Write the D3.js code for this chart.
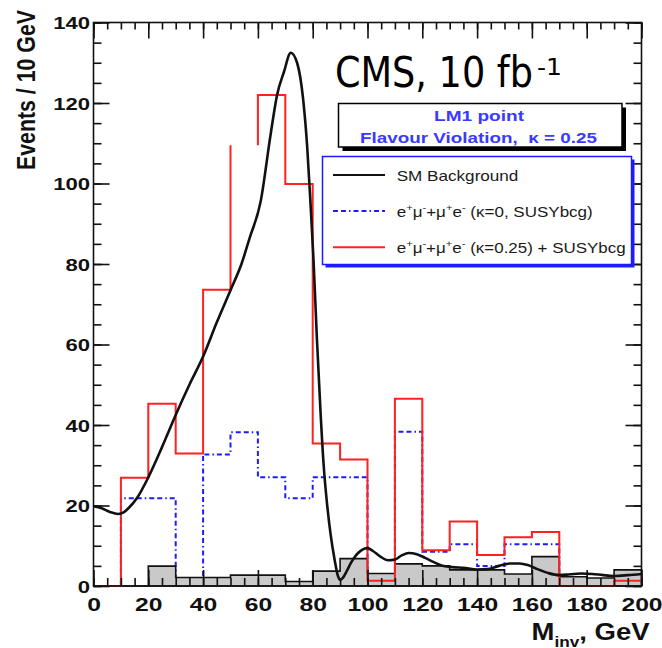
<!DOCTYPE html>
<html><head><meta charset="utf-8">
<script src="https://cdn.jsdelivr.net/npm/d3@7"></script>
<style>html,body{margin:0;padding:0;background:#fff;} svg{display:block;} text{white-space:pre;}</style>
</head><body><svg id="chart" width="662" height="648"></svg>
<script>
// ---------------- data ----------------
const binStart = [0,10,20,30,40,50,60,70,80,90,100,110,120,130,140,150,160,170,180,190];
const binWidth = 10;
// e+mu- + mu+e- (kappa=0.25) + SUSYbcg  (red)
const redVals  = [0, 26.9, 45.3, 32.9, 73.6, 109.5, 122, 99.9, 35.4, 31.4, 1.3, 46.5, 8.9, 16, 7.7, 12.1, 13.4, 0, 0, 1.3];
const redOpenTopBins = [50];           // bin whose top edge is not drawn in the original
// e+mu- + mu+e- (kappa=0, SUSYbcg)  (blue dash-dot)
const blueVals = [0, 21.8, 21.8, 0, 32.7, 38.2, 27, 21.8, 27, 27, 0, 38.3, 8.5, 10.4, 5, 10.4, 10.4, 0, 0, 0];
// grey filled histogram
const grayVals = [0, 0, 4.95, 2.1, 2.1, 2.7, 2.7, 1.1, 3.7, 6.8, 3.1, 5.5, 5.0, 4.0, 4.0, 3.0, 7.3, 2.3, 2.0, 4.0];
// SM background smooth curve
const smX = [0,3,6,9,11,13,16,20,25,30,35,40,45,50,54,57,61,64.6,67,69.5,72,74.3,76.5,78,79.2,80.3,81.5,82.8,84,85.3,86.5,88,89.2,90,91,92.5,94,96,98,100,102,104.7,107.5,110,112.5,115,118,121,124,127,131,135,140,144,148,152,155.5,158.5,162,166,170,174,178,182,186,190,195,200];
const smY = [19.8,19.3,18.4,17.9,18.3,19.5,22,27,34.5,42.5,50,57,65.5,73.5,80,86.5,95.5,112,122,127.7,132.5,130,121,109,95,81,62,44,30,20,13,6.5,2.5,1.5,2,3.8,5.8,7.8,9,9.4,8.7,7.3,6.4,6.6,7.6,8.2,7.9,7,6,5.1,4.7,4.5,4.1,4.2,5,5.6,5.6,5.2,4.2,3.2,2.7,2.9,3.1,3,2.7,2.5,2.7,3];
const xTickLabels = [0,20,40,60,80,100,120,140,160,180,200];
const yTickLabels = [0,20,40,60,80,100,120,140];
const legendLabels = ["SM Background", "(κ=0, SUSYbcg)", "(κ=0.25) + SUSYbcg"];

// ---------------- setup ----------------
const svg = d3.select("#chart");
const x = d3.scaleLinear().domain([0,200]).range([93.5, 641.5]);
const y = d3.scaleLinear().domain([0,140]).range([586, 22.5]);
const ARIAL = "'Liberation Sans', Arial, sans-serif";
const RED = "#ff2020", BLUE = "#1c1cff";

function stepPath(vals, openTops) {
  openTops = openTops || [];
  let p = `M${x(binStart[0])},${y(vals[0])}`;
  vals.forEach((v,i) => {
    const x1 = x(binStart[i] + binWidth);
    if (i > 0) p += `V${y(v)}`;
    p += openTops.includes(binStart[i]) ? `M${x1},${y(v)}` : `H${x1}`;
  });
  return p;
}
function areaPath(vals) {
  let p = `M${x(binStart[0])},${y(0)}`;
  vals.forEach((v,i) => { p += `V${y(v)}H${x(binStart[i] + binWidth)}`; });
  return p + `V${y(0)}Z`;
}

// ---------------- histograms ----------------
svg.append("path").attr("d", stepPath(blueVals)).attr("fill","none")
  .attr("stroke", BLUE).attr("stroke-width", 2).attr("stroke-dasharray","5,3,5,3,1.5,3");
svg.append("path").attr("d", areaPath(grayVals)).attr("fill","#c9c9c9")
  .attr("stroke","#111").attr("stroke-width",1.6);
svg.append("path").attr("d", stepPath(redVals, redOpenTopBins)).attr("fill","none")
  .attr("stroke", RED).attr("stroke-width", 2);

// ---------------- axes ----------------
const SX = 1.3;
function styleTicks(g){ g.select(".domain").remove(); g.selectAll("line").attr("stroke","#111").attr("stroke-width",1.6); }
const minorX = d3.range(0, 201, 5), minorY = d3.range(0, 141, 5);
svg.append("g").attr("transform",`translate(0,${y(0)})`).call(d3.axisBottom(x).tickValues(minorX).tickSize(-8).tickFormat("")).call(styleTicks);
svg.append("g").attr("transform",`translate(0,${y(140)})`).call(d3.axisTop(x).tickValues(minorX).tickSize(-7).tickFormat("")).call(styleTicks);
svg.append("g").attr("transform",`translate(0,${y(140)})`).call(d3.axisTop(x).tickValues(xTickLabels).tickSize(-16).tickFormat("")).call(styleTicks);
svg.append("g").attr("transform",`translate(${x(0)},0)`).call(d3.axisLeft(y).tickValues(minorY).tickSize(-8).tickFormat("")).call(styleTicks);
svg.append("g").attr("transform",`translate(${x(200)},0)`).call(d3.axisRight(y).tickValues(minorY).tickSize(-8).tickFormat("")).call(styleTicks);
svg.append("g").attr("transform",`translate(${x(200)},0)`).call(d3.axisRight(y).tickValues(yTickLabels).tickSize(-16).tickFormat("")).call(styleTicks);

const gxb = svg.append("g").attr("transform",`translate(0,${y(0)})`)
  .call(d3.axisBottom(x).tickValues(xTickLabels).tickSize(-16).tickFormat(d3.format("d"))).call(styleTicks);
gxb.selectAll("text").attr("y", 25.5).attr("dy", null).attr("fill","#111")
  .attr("font-family", ARIAL).attr("font-weight","bold").attr("font-size", 19)
  .attr("transform", `scale(${SX},1)`);
const gyl = svg.append("g").attr("transform",`translate(${x(0)},0)`)
  .call(d3.axisLeft(y).tickValues(yTickLabels).tickSize(-16).tickFormat(d3.format("d"))).call(styleTicks);
gyl.selectAll("text").attr("x", -3.5 / SX).attr("dy","0.36em").attr("fill","#111")
  .attr("font-family", ARIAL).attr("font-weight","bold").attr("font-size", 17)
  .attr("transform", `scale(${SX},1)`);

svg.append("rect").attr("x", x(0)).attr("y", y(140)).attr("width", x(200)-x(0)).attr("height", y(0)-y(140))
  .attr("fill","none").attr("stroke","#111").attr("stroke-width",1.6);

// ---------------- SM curve ----------------
const line = d3.line().x(d => x(d[0])).y(d => y(d[1])).curve(d3.curveMonotoneX);
svg.append("path").datum(smX.map((v,i) => [v, smY[i]])).attr("d", line)
  .attr("fill","none").attr("stroke","#111").attr("stroke-width",2.6).attr("stroke-linejoin","round");

// ---------------- axis titles ----------------
svg.append("text").attr("transform","translate(35,170) rotate(-90) scale(1,1.27)")
  .attr("font-family", ARIAL).attr("font-weight","bold").attr("font-size",20).attr("fill","#111")
  .attr("textLength",160).attr("lengthAdjust","spacingAndGlyphs").text("Events / 10 GeV");
const xt = svg.append("text").attr("x",531.5).attr("y",640).attr("font-family", ARIAL).attr("font-weight","bold")
  .attr("font-size",24).attr("fill","#111").attr("textLength",118).attr("lengthAdjust","spacingAndGlyphs");
xt.append("tspan").text("M");
xt.append("tspan").attr("font-size",15).attr("dy",6.5).text("inv");
xt.append("tspan").attr("dy",-6.5).text(", GeV");

// ---------------- CMS label ----------------
svg.append("text").attr("transform","translate(335,87) scale(1,1.175)")
  .attr("font-family","'DejaVu Sans', Verdana, sans-serif")
  .attr("font-size",36.6).attr("fill","#000").text("CMS, 10 fb");
svg.append("text").attr("transform","translate(537,75) scale(1,1.3)")
  .attr("font-family","'DejaVu Sans', Verdana, sans-serif")
  .attr("font-size",18).attr("fill","#000").attr("textLength",25).attr("lengthAdjust","spacingAndGlyphs")
  .text("-1");

// ---------------- LM1 box ----------------
svg.append("rect").attr("x",342.5).attr("y",107.5).attr("width",283.5).attr("height",43.5).attr("fill","#000");
svg.append("rect").attr("x",338.5).attr("y",103.5).attr("width",283.5).attr("height",43.5)
  .attr("fill","#fff").attr("stroke","#000").attr("stroke-width",1.5);
svg.append("text").attr("x",479).attr("y",120.7).attr("text-anchor","middle").attr("font-family",ARIAL)
  .attr("font-weight","bold").attr("font-size",15).attr("fill","#3a3aff")
  .attr("textLength",90).attr("lengthAdjust","spacingAndGlyphs").text("LM1 point");
svg.append("text").attr("x",478.5).attr("y",143.3).attr("text-anchor","middle").attr("font-family",ARIAL)
  .attr("font-weight","bold").attr("font-size",15.5).attr("fill","#3a3aff")
  .attr("textLength",237).attr("lengthAdjust","spacingAndGlyphs").text("Flavour Violation,  κ = 0.25");

// ---------------- legend ----------------
svg.append("rect").attr("x",325.5).attr("y",159.5).attr("width",309).attr("height",108).attr("fill",BLUE);
svg.append("rect").attr("x",322.5).attr("y",156.5).attr("width",309).attr("height",108)
  .attr("fill","#fff").attr("stroke",BLUE).attr("stroke-width",1.5);
const legRows = [
  {y:175, color:"#111", dash:null, w:2, ty:180.7, tl:121.7, pre:false},
  {y:211, color:BLUE, dash:"5,3,5,3,1.5,3", w:2, ty:216.7, tl:196, pre:true},
  {y:247.3, color:RED, dash:null, w:2, ty:252.7, tl:229, pre:true}
];
legRows.forEach((r,i) => {
  svg.append("line").attr("x1",333).attr("x2",385).attr("y1",r.y).attr("y2",r.y)
    .attr("stroke",r.color).attr("stroke-width",r.w).attr("stroke-dasharray",r.dash);
  const t = svg.append("text").attr("x",396.7).attr("y",r.ty).attr("font-family",ARIAL)
    .attr("font-size",14.5).attr("fill","#1a1a1a").attr("textLength",r.tl).attr("lengthAdjust","spacingAndGlyphs");
  if (r.pre) {
    const parts = [["e",0],["+",1],["μ",0],["-",1],["+",0],["μ",0],["+",1],["e",0],["-",1]];
    parts.forEach(([s,sup]) => {
      t.append("tspan").attr("font-size", sup ? 9.5 : 14.5).attr("baseline-shift", sup ? "6" : null).text(s);
    });
    t.append("tspan").text(" " + legendLabels[i]);
  } else {
    t.text(legendLabels[i]);
  }
});
</script></body></html>
